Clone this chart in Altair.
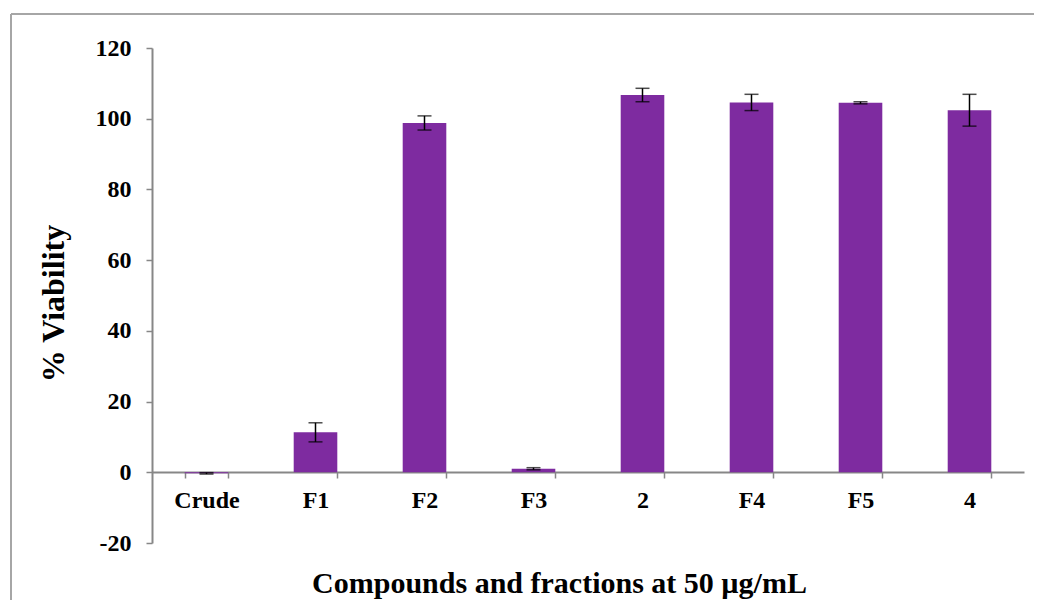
import altair as alt
import pandas as pd

categories = ["Crude", "F1", "F2", "F3", "2", "F4", "F5", "4"]
viability = [-0.3, 11.3, 98.8, 1.0, 106.7, 104.6, 104.5, 102.4]
errors = [0.2, 2.7, 2.0, 0.3, 1.9, 2.3, 0.3, 4.5]
y_ticks = [-20, 0, 20, 40, 60, 80, 100, 120]

df = pd.DataFrame({"cat": categories, "v": viability, "e": errors})
df["lo"] = df["v"] - df["e"]
df["hi"] = df["v"] + df["e"]

W, H = 872, 495
FONT = "Liberation Serif"
GRAY = "#878787"
PURPLE = "#7E2BA0"

xscale = alt.Scale(paddingInner=0.6, paddingOuter=0.3)
yscale = alt.Scale(domain=[-20, 120], nice=False)

x_enc = alt.X(
    "cat:N", sort=categories, scale=xscale,
    axis=alt.Axis(
        orient="bottom", offset=-71, tickBand="extent", labelAngle=0,
        domainColor=GRAY, domainWidth=2, tickColor=GRAY, tickWidth=1.5, tickSize=6,
        labelFont=FONT, labelFontSize=24, labelFontWeight="bold", labelColor="black",
        labelPadding=10,
        title="Compounds and fractions at 50 µg/mL",
        titleFont=FONT, titleFontSize=30, titleFontWeight="bold", titleColor="black",
        titleX=407, titleY=120, titleBaseline="alphabetic", titleAnchor="start", titleAlign="center",
    ),
)
y_enc = alt.Y(
    "v:Q", scale=yscale,
    axis=alt.Axis(
        values=y_ticks, grid=False, domainColor=GRAY, domainWidth=2,
        tickColor=GRAY, tickWidth=1.5, tickSize=6,
        labelFont=FONT, labelFontSize=24, labelFontWeight="bold", labelColor="black",
        labelPadding=15, labelExpr="replace(datum.label, '\u2212', '-')",
        title="% Viability",
        titleFont=FONT, titleFontSize=32, titleFontWeight="bold", titleColor="black",
        titleX=-89, titleY=255, titleBaseline="alphabetic", titleAngle=-90, titleAlign="center",
    ),
)

base = alt.Chart(df)
bars = base.mark_bar(color=PURPLE).encode(x=x_enc, y=y_enc)
err = base.mark_rule(color="black", strokeWidth=1.5).encode(
    x=alt.X("cat:N", sort=categories, scale=xscale), y=alt.Y("lo:Q", scale=yscale), y2="hi:Q"
)
cap_lo = base.mark_tick(color="black", size=14, thickness=1.5).encode(
    x=alt.X("cat:N", sort=categories, scale=xscale), y=alt.Y("lo:Q", scale=yscale)
)
cap_hi = base.mark_tick(color="black", size=14, thickness=1.5).encode(
    x=alt.X("cat:N", sort=categories, scale=xscale), y=alt.Y("hi:Q", scale=yscale)
)

one = pd.DataFrame({"a": [0]})
frame_top = alt.Chart(one).mark_rule(color="#a6a6a6", strokeWidth=2, clip=False).encode(
    x=alt.value(-141), x2=alt.value(W + 10), y=alt.value(-34)
)
frame_left = alt.Chart(one).mark_rule(color="#a6a6a6", strokeWidth=2, clip=False).encode(
    x=alt.value(-141), y=alt.value(-34), y2=alt.value(H + 60)
)

chart = alt.layer(frame_top, frame_left, bars, err, cap_lo, cap_hi).properties(
    width=W, height=H,
    autosize=alt.AutoSizeParams(type="none"),
    padding={"left": 144, "top": 40, "right": 10, "bottom": 57},
).configure_view(stroke=None)

chart.save("out.html", embed_options={"renderer": "svg", "actions": False})
